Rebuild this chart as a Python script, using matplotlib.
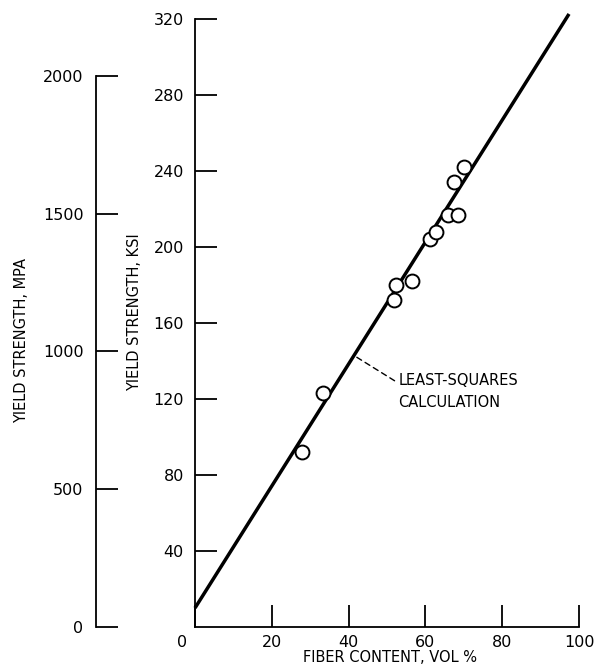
import matplotlib

matplotlib.use("Agg")
import matplotlib.pyplot as plt
import matplotlib.transforms as mtransforms

fiber_vol = [27.9, 33.3, 51.8, 52.3, 56.5, 61.2, 62.8, 65.9, 68.5, 67.4, 70.1]
yield_ksi = [92, 123, 172, 180, 182, 204, 208, 217, 217, 234, 242]

fit_intercept = 10.0   # ksi
fit_slope = 3.21       # ksi per vol %
fit_x_range = [0.0, 97.4]

x_ticks = [0, 20, 40, 60, 80, 100]
ksi_ticks = [40, 80, 120, 160, 200, 240, 280, 320]
mpa_ticks = [0, 500, 1000, 1500, 2000]
KSI_TO_MPA = 6.895

plt.rcParams["font.family"] = ["DejaVu Sans"]

W, H = 606, 672
fig = plt.figure(figsize=(W / 100, H / 100), dpi=100)
# main axes placed in pixel terms of the reference
left, right, bottom, top = 195, 579, 627, 19
ax = fig.add_axes([left / W, (H - bottom) / H, (right - left) / W, (bottom - top) / H])

ax.set_xlim(0, 100)
ax.set_ylim(0, 320)
for s in ("top", "right"):
    ax.spines[s].set_visible(False)
for s in ("left", "bottom"):
    ax.spines[s].set_linewidth(1.3)

ax.set_xticks(x_ticks)
ax.set_yticks(ksi_ticks)
ax.tick_params(direction="in", length=16, width=1.3, labelsize=11.5)
ax.tick_params(axis="y", pad=8)
ax.tick_params(axis="x", pad=6)
# the "0" at the corner sits left of the spine
lbl0 = ax.get_xticklabels()[0]
lbl0.set_transform(lbl0.get_transform() + mtransforms.ScaledTranslation(-13 / 100, 0, fig.dpi_scale_trans))

# least-squares line
fx = fit_x_range
fy = [fit_intercept + fit_slope * v for v in fx]
ax.plot(fx, fy, color="black", lw=2.5, clip_on=False, solid_capstyle="butt")

# data points
ax.plot(fiber_vol, yield_ksi, "o", ms=10, mfc="white", mec="black", mew=1.4, zorder=3)

xa = 41.4
ax.annotate("LEAST-SQUARES\nCALCULATION", xy=(xa, fit_intercept + fit_slope * xa),
            xytext=(53, 124), ha="left", va="center", fontsize=10.5, linespacing=1.6,
            arrowprops=dict(arrowstyle="-", ls=(0, (4, 3)), lw=1.0,
                            shrinkA=1, shrinkB=2, relpos=(0, 0.72)))

ax.set_xlabel("FIBER CONTENT, VOL %", fontsize=10.5)
ax.xaxis.set_label_coords((390 - left) / (right - left), (bottom - 650) / (bottom - top))
ax.set_ylabel("YIELD STRENGTH, KSI", fontsize=10.5)
ax.yaxis.set_label_coords((142 - left) / (right - left), (bottom - 312) / (bottom - top))

# secondary MPa scale on the far left
ax2 = ax.twinx()
ax2.set_ylim(0, 320 * KSI_TO_MPA)
ax2.yaxis.tick_left()
ax2.yaxis.set_label_position("left")
for s in ("top", "right", "bottom"):
    ax2.spines[s].set_visible(False)
ax2.spines["left"].set_position(("axes", (96 - left) / (right - left)))
ax2.spines["left"].set_bounds(0, 2000)
ax2.spines["left"].set_linewidth(1.3)
ax2.set_yticks(mpa_ticks)
ax2.tick_params(direction="in", length=16, width=1.3, labelsize=11.5, pad=9)
ax2.set_ylabel("YIELD STRENGTH, MPA", fontsize=10.5)
ax2.yaxis.set_label_coords((29 - left) / (right - left), (bottom - 340) / (bottom - top))

fig.savefig("out.png", dpi=100)
